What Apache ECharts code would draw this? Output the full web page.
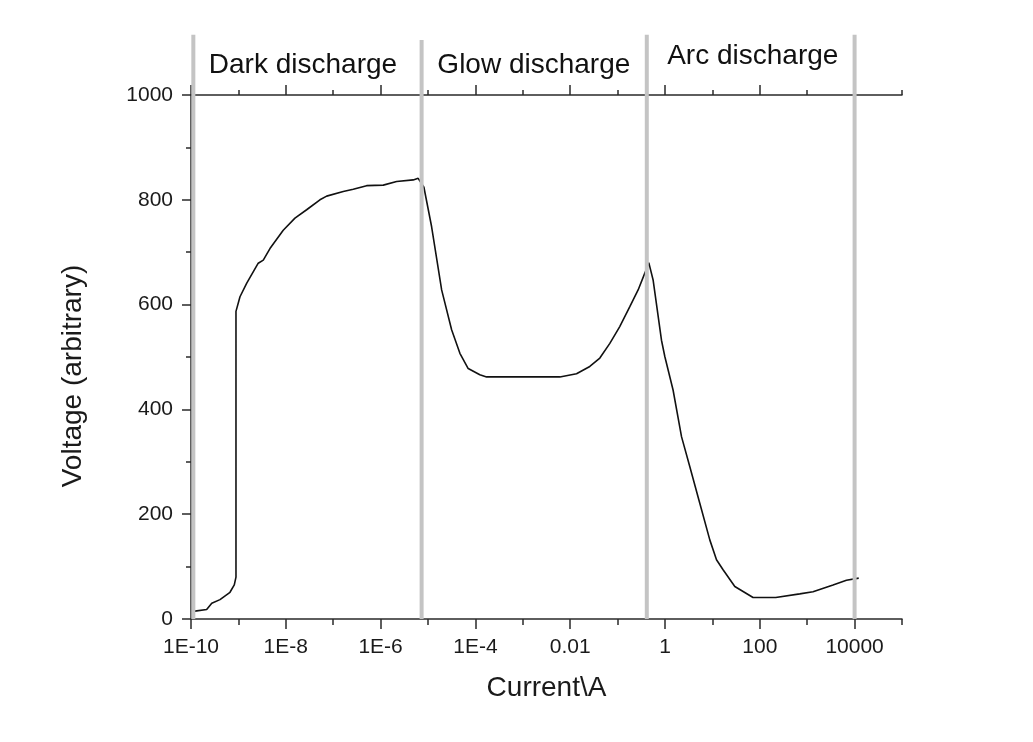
<!DOCTYPE html>
<html>
<head>
<meta charset="utf-8">
<script src="https://cdn.jsdelivr.net/npm/echarts@6/dist/echarts.min.js"></script>
<style>
html,body{margin:0;padding:0;background:#fff;}
#chart{width:1033px;height:742px;}
</style>
</head>
<body>
<div id="chart"></div>
<script>
// ---- data ----
const current = [1.21e-10, 2.14e-10, 2.74e-10, 4.09e-10, 6.64e-10, 8.19e-10, 8.89e-10, 8.89e-10, 1.08e-9, 1.50e-9, 2.62e-9, 3.35e-9, 4.63e-9, 8.83e-9, 1.56e-8, 2.75e-8, 5.25e-8, 7.28e-8, 1.63e-7, 2.65e-7, 5.07e-7, 1.14e-6, 2.18e-6, 4.88e-6, 6.21e-6, 8.20e-6, 1.19e-5, 1.94e-5, 3.15e-5, 4.71e-5, 7.05e-5, 1.24e-4, 1.72e-4, 6.05e-3, 1.36e-2, 2.59e-2, 4.22e-2, 6.86e-2, 0.111, 0.181, 0.271, 0.375, 0.455, 0.561, 0.843, 0.991, 1.48, 2.23, 3.33, 5.42, 8.81, 12.2, 16.8, 29.7, 72.1, 217, 697, 1327, 3508, 6730, 12220];
const voltage = [15, 18, 30, 37, 51, 65, 80, 587, 615, 641, 679, 685, 707, 742, 765, 781, 800, 807, 816, 820, 827, 828, 835, 838, 841, 824, 749, 628, 552, 507, 478, 466, 462, 462, 468, 482, 498, 526, 558, 596, 628, 660, 680, 647, 532, 501, 437, 348, 291, 221, 151, 113, 94, 62, 41, 41, 48, 52, 65, 74, 78];

const boundaryCurrent = [1.12e-10, 7.33e-6, 0.413, 1.0e4];
const boundaryTop = [1115, 1105, 1115, 1115];

const regionNames = ['Dark discharge', 'Glow discharge', 'Arc discharge'];
const regionCurrent = [2.30e-8, 1.71e-3, 71.1];
const regionVoltage = [1057, 1057, 1073];

const xMajorTicks = [1e-10, 1e-8, 1e-6, 1e-4, 0.01, 1, 100, 10000];
const xMinorTicks = [1e-9, 1e-7, 1e-5, 1e-3, 0.1, 10, 1000, 100000];
const xTickLabels = ['1E-10', '1E-8', '1E-6', '1E-4', '0.01', '1', '100', '10000'];

// ---- chart ----
const FONT = '"Liberation Sans", Arial, Helvetica, sans-serif';
const AXIS_COLOR = '#2a2a2a';
const chart = echarts.init(document.getElementById('chart'), null, {renderer: 'canvas'});

function fmtX(v) {
  const e = Math.round(Math.log10(v));
  for (let i = 0; i < xMajorTicks.length; i++) {
    if (Math.round(Math.log10(xMajorTicks[i])) === e) return xTickLabels[i];
  }
  return '';
}

function xAxisDef(pos, ticks, len, withLine, withLabels) {
  return {
    type: 'log',
    logBase: 10,
    position: pos,
    min: 1e-10,
    max: 1e5,
    axisLine: {show: withLine, onZero: false, lineStyle: {color: AXIS_COLOR, width: 1.5}},
    axisTick: {show: true, inside: false, length: len, customValues: ticks, lineStyle: {color: AXIS_COLOR, width: 1.5}},
    axisLabel: {show: withLabels, customValues: ticks, formatter: fmtX, fontSize: 21, margin: 18, color: '#1a1a1a', fontFamily: FONT},
    splitLine: {show: false},
    minorTick: {show: false},
    minorSplitLine: {show: false}
  };
}

const xBottom = xAxisDef('bottom', xMajorTicks, 10, true, true);
xBottom.name = 'Current\\A';
xBottom.nameLocation = 'middle';
xBottom.nameGap = 55;
xBottom.nameMoveOverlap = false;
xBottom.nameTextStyle = {fontSize: 28, color: '#1a1a1a', fontFamily: FONT};

const option = {
  animation: false,
  backgroundColor: '#ffffff',
  grid: {left: 191, right: 131, top: 95, bottom: 123, outerBoundsMode: 'none', containLabel: false},
  xAxis: [
    xBottom,
    xAxisDef('bottom', xMinorTicks, 6, false, false),
    xAxisDef('top', xMajorTicks, 10, true, false),
    xAxisDef('top', xMinorTicks, 5, false, false)
  ],
  yAxis: {
    type: 'value',
    min: 0,
    max: 1000,
    interval: 200,
    axisLine: {show: true, lineStyle: {color: AXIS_COLOR, width: 1.5}},
    axisTick: {show: true, inside: false, length: 9, lineStyle: {color: AXIS_COLOR, width: 1.5}},
    minorTick: {show: true, splitNumber: 2, length: 5, lineStyle: {color: AXIS_COLOR, width: 1.5}},
    axisLabel: {fontSize: 21, margin: 18, color: '#1a1a1a', fontFamily: FONT, formatter: function (v) { return String(v); }},
    splitLine: {show: false},
    minorSplitLine: {show: false},
    name: 'Voltage (arbitrary)',
    nameLocation: 'middle',
    nameGap: 104,
    nameMoveOverlap: false,
    nameTextStyle: {fontSize: 28, color: '#1a1a1a', fontFamily: FONT, padding: [0, 38, 0, 0]}
  },
  series: [
    {
      type: 'line',
      xAxisIndex: 0,
      data: current.map((c, i) => [c, voltage[i]]),
      showSymbol: false,
      symbol: 'none',
      lineStyle: {color: '#111', width: 1.6},
      z: 2
    },
    {
      type: 'custom',
      xAxisIndex: 0,
      clip: false,
      z: 5,
      data: boundaryCurrent.map((c, i) => [c, boundaryTop[i]]),
      renderItem: function (params, api) {
        const p0 = api.coord([api.value(0), 0]);
        const p1 = api.coord([api.value(0), api.value(1)]);
        return {
          type: 'line',
          shape: {x1: p0[0], y1: p0[1], x2: p1[0], y2: p1[1]},
          style: {stroke: '#c4c4c4', lineWidth: 4}
        };
      }
    },
    {
      type: 'custom',
      xAxisIndex: 0,
      clip: false,
      z: 6,
      data: regionCurrent.map((c, i) => [c, regionVoltage[i]]),
      renderItem: function (params, api) {
        const p = api.coord([api.value(0), api.value(1)]);
        return {
          type: 'text',
          x: p[0],
          y: p[1],
          style: {
            text: regionNames[params.dataIndex],
            fontSize: 28,
            fontFamily: FONT,
            fill: '#111',
            align: 'center',
            verticalAlign: 'middle'
          }
        };
      }
    }
  ]
};
chart.setOption(option);
</script>
</body>
</html>
